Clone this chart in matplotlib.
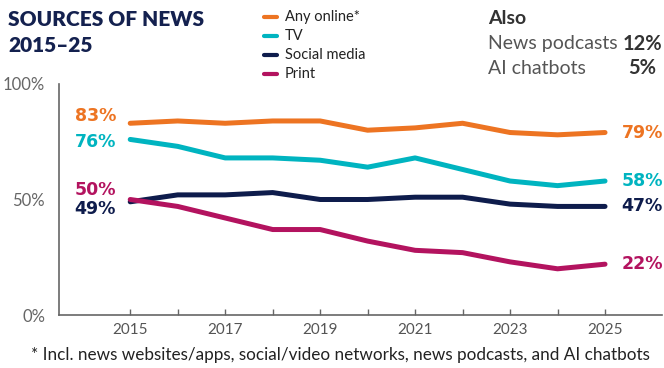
import matplotlib
matplotlib.use("Agg")
import matplotlib.pyplot as plt

plt.rcParams['font.family'] = ['Lato', 'DejaVu Sans']

years = list(range(2015, 2026))
online = [83, 84, 83, 84, 84, 80, 81, 83, 79, 78, 79]
tv = [76, 73, 68, 68, 67, 64, 68, 63, 58, 56, 58]
social = [49, 52, 52, 53, 50, 50, 51, 51, 48, 47, 47]
printed = [50, 47, 42, 37, 37, 32, 28, 27, 23, 20, 22]

names = ['Any online*', 'TV', 'Social media', 'Print']
colors = ['#ED7422', '#00B4C0', '#0E1C4C', '#B3135F']
series = [online, tv, social, printed]

also_labels = ['News podcasts', 'AI chatbots']
also_values = ['12%', '5%']

fig = plt.figure(figsize=(6.64, 3.68), dpi=100)
ax = fig.add_axes([59 / 664, 1 - 315 / 368, 603 / 664, 231 / 368])

for vals, c in zip(series, colors):
    ax.plot(years, vals, color=c, lw=3.6, solid_capstyle='round', solid_joinstyle='round')

ax.set_xlim(2013.5, 2026.2)
ax.set_ylim(0, 100)
ax.set_yticks([0, 50, 100])
ax.set_yticklabels(['0%', '50%', '100%'])
ax.set_xticks(years)
ax.set_xticklabels([str(y) if y % 2 == 1 else '' for y in years])
ax.tick_params(axis='x', direction='in', length=4, width=1, color='#666666',
               labelsize=11, labelcolor='#555555', pad=6)
ax.tick_params(axis='y', length=0, labelsize=12, labelcolor='#666666', pad=10)
for s in ['top', 'right']:
    ax.spines[s].set_visible(False)
for s in ['left', 'bottom']:
    ax.spines[s].set_color('#666666')
    ax.spines[s].set_linewidth(1.2)

# value labels at both ends
left_off = {0: 3, 1: -1, 2: -3, 3: 4}
for i, (vals, c) in enumerate(zip(series, colors)):
    ax.text(2014.7, vals[0] + left_off[i], f'{vals[0]}%', color=c, fontsize=12.5,
            fontweight='bold', family='DejaVu Sans', ha='right', va='center')
    ax.text(2025.35, vals[-1], f'{vals[-1]}%', color=c, fontsize=12.5,
            fontweight='bold', family='DejaVu Sans', ha='left', va='center')

# title
fig.text(8 / 664, 1 - 20 / 368, 'SOURCES OF NEWS', fontsize=15, fontweight='heavy',
         color='#14214F', va='center')
fig.text(8 / 664, 1 - 45 / 368, '2015–25', fontsize=15, fontweight='heavy',
         color='#14214F', va='center')

# legend
for i, (n, c) in enumerate(zip(names, colors)):
    yy = 1 - (17 + 19 * i) / 368
    fig.lines.append(plt.Line2D([264 / 664, 277 / 664], [yy, yy], color=c, lw=3,
                                solid_capstyle='round', transform=fig.transFigure))
    fig.text(285 / 664, yy, n, fontsize=10.5, color='#222222', va='center')

# also box
fig.text(488 / 664, 1 - 19 / 368, 'Also', fontsize=14, fontweight='bold', color='#333333', va='center')
for i, (lab, v) in enumerate(zip(also_labels, also_values)):
    yy = 1 - (44 + 24 * i) / 368
    fig.text(488 / 664, yy, lab, fontsize=14, color='#555555', va='center')
    fig.text(642 / 664, yy, v, fontsize=14.5, fontweight='bold', color='#333333',
             va='center', ha='center')

fig.text(340 / 664, 1 - 355 / 368,
         '* Incl. news websites/apps, social/video networks, news podcasts, and AI chatbots',
         fontsize=12.3, color='#222222', ha='center', va='center')

fig.savefig('out.png', dpi=100)
